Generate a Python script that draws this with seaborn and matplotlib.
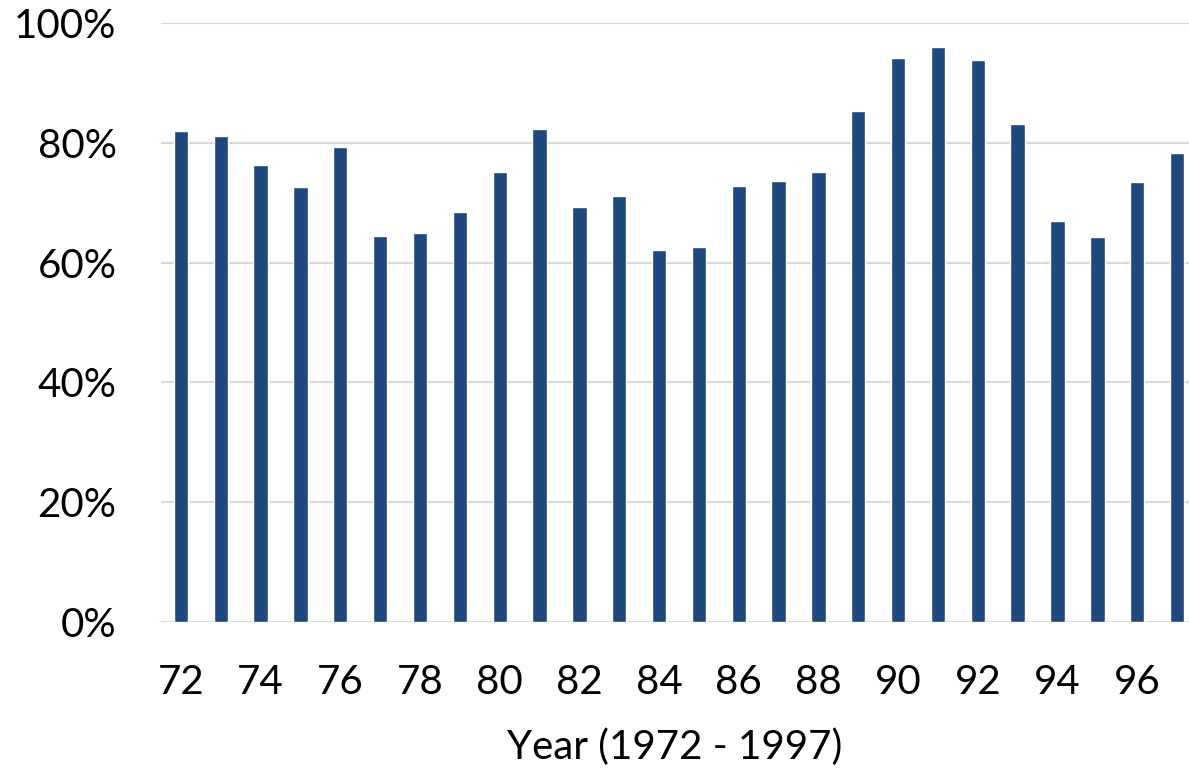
import numpy as np
import pandas as pd
import matplotlib
matplotlib.use("Agg")
import matplotlib.pyplot as plt
import seaborn as sns
from matplotlib.ticker import PercentFormatter

years = [str(y) for y in range(72, 98)]
share = [82.0, 81.1, 76.3, 72.7, 79.4, 64.4, 65.0, 68.4, 75.1, 82.3,
         69.3, 71.1, 62.2, 62.7, 72.8, 73.6, 75.1, 85.4, 94.1, 96.0,
         93.9, 83.2, 66.9, 64.3, 73.4, 78.4]
tick_labels = years[::2]

df = pd.DataFrame({"year": years, "share": np.array(share) / 100})

sns.set_theme(style="white")
plt.rcParams["font.family"] = ["Lato", "DejaVu Sans"]

fig = plt.figure(figsize=(11.89, 7.72), dpi=100)
ax = fig.add_axes([0.1354, 0.1943, 0.8646, 0.7757])

sns.barplot(data=df, x="year", y="share", color="#1f497d", saturation=1,
            width=0.36, ax=ax, zorder=3)

ax.set_ylim(0, 1)
ax.set_xlim(-0.5, 25.3)
ax.yaxis.set_major_formatter(PercentFormatter(1.0, decimals=0))
ax.set_yticks(np.arange(0, 1.01, 0.2))
ax.set_xticks(range(0, 26, 2))
ax.set_xticklabels(tick_labels)
ax.grid(axis="y", color="#d9d9d9", linewidth=1.5, zorder=0)
for s in ax.spines.values():
    s.set_visible(False)
ax.tick_params(axis="both", length=0, labelsize=29, colors="black")
ax.tick_params(axis="x", pad=30)
ax.tick_params(axis="y", pad=32)
ax.set_ylabel("")
ax.set_xlabel("Year (1972 - 1997)", fontsize=29, labelpad=20, color="black")

fig.savefig("out.png", dpi=100)
